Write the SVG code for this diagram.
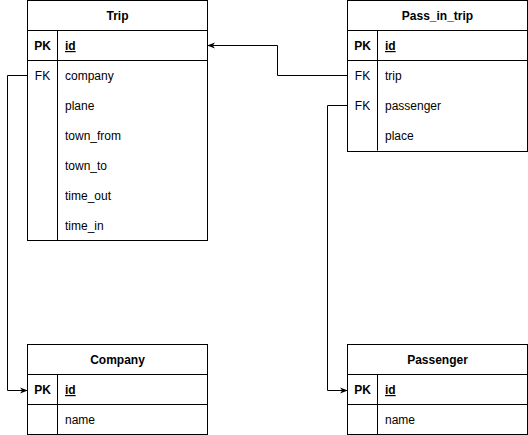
<svg xmlns="http://www.w3.org/2000/svg" width="528" height="435" viewBox="0 0 528 435">
<defs>
<marker id="arr" viewBox="0 0 10 10" refX="9" refY="5" markerWidth="8" markerHeight="8" orient="auto" markerUnits="userSpaceOnUse">
<path d="M0,1 L10,5 L0,9 L3,5 Z" fill="#000"/>
</marker>
<style>
.box{fill:#fff;stroke:#000;stroke-width:1}
.ln{stroke:#000;stroke-width:1;fill:none}
.t{font-family:"Liberation Sans",Arial,sans-serif;font-size:12px;fill:#000}
.h{font-weight:bold;text-anchor:middle}
.k{text-anchor:middle}
.b{font-weight:bold}
.u{text-decoration:underline}
.c{fill:none;stroke:#000;stroke-width:1}
</style>
</defs>
<rect width="528" height="435" fill="#fff"/>
<g id="connectors">
<path class="c" d="M347.5,75.5 H277.5 V45.5 H208" marker-end="url(#arr)"/>
<path class="c" d="M347.5,105.5 H327.5 V390.5 H347" marker-end="url(#arr)"/>
<path class="c" d="M27.5,75.5 H7.5 V390.5 H27" marker-end="url(#arr)"/>
</g>
<g id="Trip">
<rect class="box" x="27.5" y="0.5" width="180" height="240"/>
<line class="ln" x1="27.5" y1="30.5" x2="207.5" y2="30.5"/>
<line class="ln" x1="27.5" y1="60.5" x2="207.5" y2="60.5"/>
<line class="ln" x1="57.5" y1="30.5" x2="57.5" y2="240.5"/>
<text class="t h" x="117.5" y="20">Trip</text>
<text class="t k b" x="42.5" y="50">PK</text>
<text class="t b u" x="65" y="50">id</text>
<text class="t k" x="42.5" y="80">FK</text>
<text class="t" x="65" y="80">company</text>
<text class="t" x="65" y="110">plane</text>
<text class="t" x="65" y="140">town_from</text>
<text class="t" x="65" y="170">town_to</text>
<text class="t" x="65" y="200">time_out</text>
<text class="t" x="65" y="230">time_in</text>
</g>
<g id="Pass_in_trip">
<rect class="box" x="347.5" y="0.5" width="180" height="151"/>
<line class="ln" x1="347.5" y1="30.5" x2="527.5" y2="30.5"/>
<line class="ln" x1="347.5" y1="60.5" x2="527.5" y2="60.5"/>
<line class="ln" x1="377.5" y1="30.5" x2="377.5" y2="150.5"/>
<text class="t h" x="437.5" y="20">Pass_in_trip</text>
<text class="t k b" x="362.5" y="50">PK</text>
<text class="t b u" x="385" y="50">id</text>
<text class="t k" x="362.5" y="80">FK</text>
<text class="t" x="385" y="80">trip</text>
<text class="t k" x="362.5" y="110">FK</text>
<text class="t" x="385" y="110">passenger</text>
<text class="t" x="385" y="140">place</text>
</g>
<g id="Company">
<rect class="box" x="27.5" y="344.5" width="180" height="90"/>
<line class="ln" x1="27.5" y1="374.5" x2="207.5" y2="374.5"/>
<line class="ln" x1="27.5" y1="404.5" x2="207.5" y2="404.5"/>
<line class="ln" x1="57.5" y1="374.5" x2="57.5" y2="434.5"/>
<text class="t h" x="117.5" y="364">Company</text>
<text class="t k b" x="42.5" y="394">PK</text>
<text class="t b u" x="65" y="394">id</text>
<text class="t" x="65" y="424">name</text>
</g>
<g id="Passenger">
<rect class="box" x="347.5" y="344.5" width="180" height="90"/>
<line class="ln" x1="347.5" y1="374.5" x2="527.5" y2="374.5"/>
<line class="ln" x1="347.5" y1="404.5" x2="527.5" y2="404.5"/>
<line class="ln" x1="377.5" y1="374.5" x2="377.5" y2="434.5"/>
<text class="t h" x="437.5" y="364">Passenger</text>
<text class="t k b" x="362.5" y="394">PK</text>
<text class="t b u" x="385" y="394">id</text>
<text class="t" x="385" y="424">name</text>
</g>
</svg>
